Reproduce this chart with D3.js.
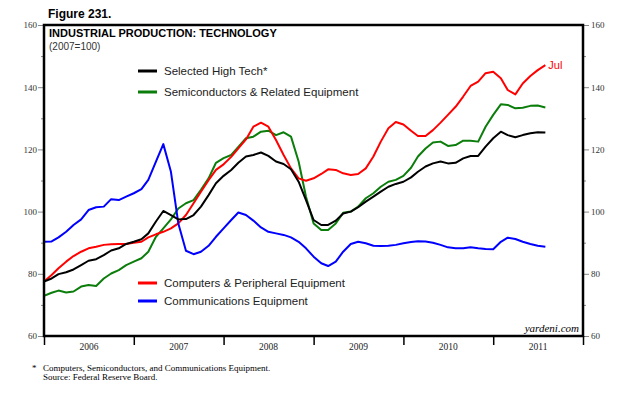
<!DOCTYPE html>
<html>
<head>
<meta charset="utf-8">
<script src="https://cdn.jsdelivr.net/npm/d3@7.9.0/dist/d3.min.js"></script>
<style>
  body { margin: 0; background: #fff; }
  svg { display: block; }
  .sans { font-family: "Liberation Sans", Arial, sans-serif; }
  .serif { font-family: "Liberation Serif", "Times New Roman", serif; }
</style>
</head>
<body>
<svg width="640" height="400"></svg>
<script>
// Monthly index values, Dec 2005 .. Jul 2011 (each point drawn at month end)
const startYear = 2006;
const yearLabels = ['2006', '2007', '2008', '2009', '2010', '2011'];
const yTicks = [60, 80, 100, 120, 140, 160];

const highTech = [
  77.5, 78.5, 79.9, 80.5, 81.4, 82.8, 84.2, 84.7, 86.0, 87.5, 88.2, 89.6, 90.3,
  91.1, 93.0, 96.8, 100.2, 98.9, 97.5, 97.6, 98.9, 101.6, 105.3, 109.1, 111.5, 113.4,
  115.7, 117.7, 118.2, 119.0, 117.9, 116.1, 115.3, 113.6, 109.6, 103.7, 97.3, 95.7,
  95.7, 97.1, 99.4, 100.0, 101.4, 103.2, 104.8, 106.4, 108.0, 108.9, 109.6, 111.0,
  112.8, 114.5, 115.5, 116.1, 115.5, 115.7, 117.1, 117.9, 117.9, 120.9, 123.6, 125.7,
  124.6, 123.9, 124.6, 125.2, 125.5, 125.4
];
const semis = [
  72.9, 73.9, 74.6, 74.0, 74.3, 75.9, 76.4, 76.1, 78.5, 80.1, 81.2, 82.8, 83.9,
  85.0, 87.1, 91.9, 94.6, 97.5, 101.0, 102.7, 103.7, 107.0, 110.7, 115.7, 117.2, 118.2,
  120.8, 123.6, 124.1, 125.7, 126.0, 124.6, 125.5, 124.1, 116.1, 104.8, 96.2, 94.1,
  94.1, 96.2, 99.6, 100.0, 101.6, 104.3, 105.9, 108.0, 109.6, 110.2, 111.5, 114.1,
  117.7, 120.3, 122.2, 122.5, 121.1, 121.4, 122.8, 122.8, 122.5, 127.3, 131.1, 134.5,
  134.3, 133.2, 133.4, 134.0, 134.1, 133.5
];
const computers = [
  77.5, 79.6, 81.8, 83.9, 85.7, 87.1, 88.2, 88.7, 89.3, 89.5, 89.6, 89.6, 90.0,
  90.3, 91.7, 92.7, 93.5, 94.6, 96.2, 98.9, 102.7, 106.4, 110.1, 113.4, 115.2, 117.6,
  120.3, 123.2, 127.3, 128.6, 127.3, 123.0, 118.2, 113.9, 110.7, 109.9, 110.7, 112.1,
  113.6, 113.4, 112.3, 111.8, 112.1, 113.9, 117.7, 122.5, 126.8, 128.8, 128.0, 126.0,
  124.3, 124.3, 126.2, 128.6, 131.1, 133.7, 137.0, 140.4, 141.8, 144.5, 145.0, 142.9,
  139.1, 137.7, 141.2, 143.6, 145.5, 147.1
];
const comms = [
  90.3, 90.4, 91.7, 93.5, 95.7, 97.5, 100.5, 101.4, 101.6, 104.0, 103.7, 104.8, 105.9,
  107.2, 110.2, 116.1, 121.7, 112.8, 96.2, 87.4, 86.3, 87.1, 89.0, 91.9, 94.6, 97.3,
  99.7, 98.9, 97.1, 94.9, 93.5, 93.0, 92.5, 91.7, 90.3, 88.2, 85.5, 83.4, 82.5,
  83.9, 87.1, 89.6, 90.3, 89.8, 89.0, 88.9, 89.0, 89.3, 89.8, 90.2, 90.5, 90.4,
  90.0, 89.3, 88.5, 88.2, 88.2, 88.5, 88.2, 88.0, 87.9, 90.3, 91.6, 91.2, 90.3,
  89.6, 89.0, 88.7
];

const svg = d3.select('svg');

// Plot frame
const frameLeft = 44, frameRight = 583, frameTop = 25, frameBottom = 336;

const x = d3.scaleTime()
    .domain([new Date(startYear, 0, 1), new Date(startYear + yearLabels.length, 0, 1)])
    .range([frameLeft, frameRight]);
const y = d3.scaleLinear().domain([60, 160]).range([frameBottom, frameTop]);

// point k sits at the end of month k-1 (k=0 -> Dec 2005)
const monthEnd = (k) => new Date(startYear, k, 1);

const line = d3.line()
    .x((d, i) => x(monthEnd(i)))
    .y((d) => y(d));

// Left and right value axes, ticks outside the frame
const minorTicks = d3.range(60, 161, 10);
const leftAxis = d3.axisLeft(y).tickValues(minorTicks).tickSize(5)
    .tickFormat((d) => yTicks.includes(d) ? d : '');
const rightAxis = d3.axisRight(y).tickValues(minorTicks).tickSize(5)
    .tickFormat((d) => yTicks.includes(d) ? d : '');

[[leftAxis, frameLeft], [rightAxis, frameRight]].forEach(([axis, pos]) => {
    const g = svg.append('g')
        .attr('transform', `translate(${pos},0)`)
        .call(axis);
    g.select('.domain').remove();
    g.selectAll('line').attr('stroke', '#888').attr('stroke-width', 1)
        .attr('x2', function(d) {
            const len = yTicks.includes(d) ? 6 : 3;
            return pos === frameLeft ? -len : len;
        });
    g.selectAll('text')
        .attr('class', 'serif')
        .attr('font-size', 9)
        .attr('fill', '#333')
        .attr('x', pos === frameLeft ? -7 : 8);
});

// Year ticks under the frame
const yearAxis = d3.axisBottom(x)
    .tickValues(d3.range(yearLabels.length + 1).map((i) => new Date(startYear + i, 0, 1)))
    .tickSize(9)
    .tickFormat('');
const yg = svg.append('g')
    .attr('transform', `translate(0,${frameBottom})`)
    .call(yearAxis);
yg.select('.domain').remove();
yg.selectAll('line').attr('stroke', '#000').attr('stroke-width', 1.5);

svg.append('g')
    .selectAll('text')
    .data(yearLabels)
    .join('text')
    .attr('class', 'serif')
    .attr('font-size', 9.5)
    .attr('fill', '#222')
    .attr('text-anchor', 'middle')
    .attr('x', (d, i) => (x(new Date(startYear + i, 0, 1)) + x(new Date(startYear + i + 1, 0, 1))) / 2)
    .attr('y', 350)
    .text((d) => d);

// Clip the series to the frame
svg.append('clipPath').attr('id', 'clip')
    .append('rect')
    .attr('x', frameLeft).attr('y', frameTop)
    .attr('width', frameRight - frameLeft).attr('height', frameBottom - frameTop);

const series = [
    { values: semis, color: '#0b7d0b' },
    { values: computers, color: '#ff0000' },
    { values: comms, color: '#0000ff' },
    { values: highTech, color: '#000000' },
];

const plot = svg.append('g').attr('clip-path', 'url(#clip)');
series.forEach((s) => {
    plot.append('path')
        .datum(s.values)
        .attr('d', line)
        .attr('fill', 'none')
        .attr('stroke', s.color)
        .attr('stroke-width', 2)
        .attr('stroke-linejoin', 'round');
});

// Frame
svg.append('rect')
    .attr('x', frameLeft).attr('y', frameTop)
    .attr('width', frameRight - frameLeft).attr('height', frameBottom - frameTop)
    .attr('fill', 'none')
    .attr('stroke', '#000')
    .attr('stroke-width', 2.5);

// Titles
svg.append('text').attr('class', 'sans')
    .attr('x', 48).attr('y', 18)
    .attr('font-size', 12).attr('font-weight', 'bold')
    .text('Figure 231.');
svg.append('text').attr('class', 'sans')
    .attr('x', 49).attr('y', 37)
    .attr('font-size', 11).attr('font-weight', 'bold')
    .text('INDUSTRIAL PRODUCTION: TECHNOLOGY');
svg.append('text').attr('class', 'sans')
    .attr('x', 49).attr('y', 50)
    .attr('font-size', 10).attr('fill', '#333')
    .text('(2007=100)');

// Legend
const legendItems = [
    { label: 'Selected High Tech*', color: '#000000', y: 71 },
    { label: 'Semiconductors & Related Equipment', color: '#0b7d0b', y: 92 },
    { label: 'Computers & Peripheral Equipment', color: '#ff0000', y: 283 },
    { label: 'Communications Equipment', color: '#0000ff', y: 301 },
];
legendItems.forEach((d) => {
    svg.append('line')
        .attr('x1', 138).attr('x2', 157)
        .attr('y1', d.y).attr('y2', d.y)
        .attr('stroke', d.color).attr('stroke-width', 3);
    svg.append('text').attr('class', 'sans')
        .attr('x', 164).attr('y', d.y + 4)
        .attr('font-size', 11.5).attr('fill', '#222')
        .text(d.label);
});

// End label for last month
svg.append('text').attr('class', 'sans')
    .attr('x', x(monthEnd(computers.length - 1)) + 3)
    .attr('y', 69)
    .attr('font-size', 11).attr('fill', '#ff0000')
    .text('Jul');

svg.append('text').attr('class', 'serif')
    .attr('x', 579).attr('y', 332)
    .attr('text-anchor', 'end')
    .attr('font-size', 11).attr('font-style', 'italic')
    .text('yardeni.com');

// Footnote
svg.append('text').attr('class', 'serif')
    .attr('x', 32).attr('y', 371).attr('font-size', 9)
    .text('*');
svg.append('text').attr('class', 'serif')
    .attr('x', 43).attr('y', 371).attr('font-size', 9)
    .text('Computers, Semiconductors, and Communications Equipment.');
svg.append('text').attr('class', 'serif')
    .attr('x', 43).attr('y', 380).attr('font-size', 9)
    .text('Source: Federal Reserve Board.');
</script>
</body>
</html>
